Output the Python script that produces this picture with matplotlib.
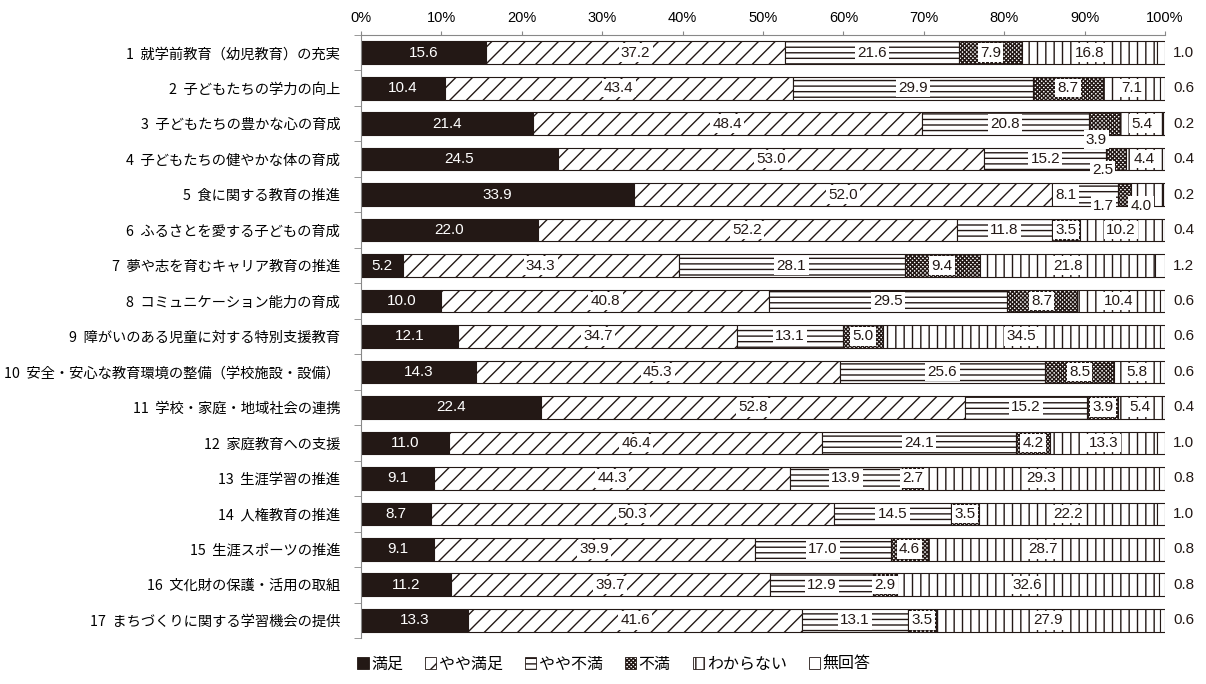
import numpy as np
import matplotlib
matplotlib.use("Agg")
import matplotlib.pyplot as plt
from matplotlib.patches import Patch

plt.rcParams["font.family"] = ["Noto Sans CJK JP", "DejaVu Sans"]
plt.rcParams["hatch.linewidth"] = 1.0

categories = [
    "1  就学前教育（幼児教育）の充実",
    "2  子どもたちの学力の向上",
    "3  子どもたちの豊かな心の育成",
    "4  子どもたちの健やかな体の育成",
    "5  食に関する教育の推進",
    "6  ふるさとを愛する子どもの育成",
    "7  夢や志を育むキャリア教育の推進",
    "8  コミュニケーション能力の育成",
    "9  障がいのある児童に対する特別支援教育",
    "10  安全・安心な教育環境の整備（学校施設・設備）",
    "11  学校・家庭・地域社会の連携",
    "12  家庭教育への支援",
    "13  生涯学習の推進",
    "14  人権教育の推進",
    "15  生涯スポーツの推進",
    "16  文化財の保護・活用の取組",
    "17  まちづくりに関する学習機会の提供",
]

series_names = ["満足", "やや満足", "やや不満", "不満", "わからない", "無回答"]

satisfied = [15.6, 10.4, 21.4, 24.5, 33.9, 22.0, 5.2, 10.0, 12.1, 14.3, 22.4, 11.0, 9.1, 8.7, 9.1, 11.2, 13.3]
somewhat_satisfied = [37.2, 43.4, 48.4, 53.0, 52.0, 52.2, 34.3, 40.8, 34.7, 45.3, 52.8, 46.4, 44.3, 50.3, 39.9, 39.7, 41.6]
somewhat_dissatisfied = [21.6, 29.9, 20.8, 15.2, 8.1, 11.8, 28.1, 29.5, 13.1, 25.6, 15.2, 24.1, 13.9, 14.5, 17.0, 12.9, 13.1]
dissatisfied = [7.9, 8.7, 3.9, 2.5, 1.7, 3.5, 9.4, 8.7, 5.0, 8.5, 3.9, 4.2, 2.7, 3.5, 4.6, 2.9, 3.5]
unknown = [16.8, 7.1, 5.4, 4.4, 4.0, 10.2, 21.8, 10.4, 34.5, 5.8, 5.4, 13.3, 29.3, 22.2, 28.7, 32.6, 27.9]
no_answer = [1.0, 0.6, 0.2, 0.4, 0.2, 0.4, 1.2, 0.6, 0.6, 0.6, 0.4, 1.0, 0.8, 1.0, 0.8, 0.8, 0.6]

xtick_values = list(range(0, 101, 10))

series = [satisfied, somewhat_satisfied, somewhat_dissatisfied, dissatisfied, unknown, no_answer]
styles = [
    dict(facecolor="#231815", hatch=None),
    dict(facecolor="white", hatch="//"),
    dict(facecolor="white", hatch="---"),
    dict(facecolor="white", hatch="xxxxxxxx"),
    dict(facecolor="white", hatch="||"),
    dict(facecolor="white", hatch=None),
]

# nudges (pixels) for labels of narrow segments
label_nudge = {
    (2, 3): (-8, -16),
    (3, 3): (-14, -11),
    (4, 2): (-19, 0),
    (4, 3): (-21, -11),
    (4, 4): (-6, -11),
}

raw = np.array(series, dtype=float)          # shape (6, 17)
shares = raw / raw.sum(axis=0) * 100.0        # 100% stacked
lefts = np.vstack([np.zeros(raw.shape[1]), np.cumsum(shares, axis=0)[:-1]])

fig = plt.figure(figsize=(12.06, 6.84), dpi=100)
ax = fig.add_axes([361 / 1206, 1 - 638 / 684, (1165 - 361) / 1206, (638 - 35) / 684])

y = np.arange(len(categories))
for i, (name, st) in enumerate(zip(series_names, styles)):
    ax.barh(y, shares[i], left=lefts[i], height=0.64, color=st["facecolor"],
            hatch=st["hatch"], edgecolor="#231815", linewidth=0.8, label=name)

num_font = ["Liberation Sans", "DejaVu Sans"]
for r in range(len(categories)):
    for i in range(5):
        v = raw[i, r]
        cx = lefts[i, r] + shares[i, r] / 2
        dx, dy = label_nudge.get((r, i), (0, 0))
        if i == 0:
            ax.annotate(f"{v:.1f}", (cx, r), xytext=(dx, dy), textcoords="offset pixels",
                        ha="center", va="center", fontsize=11, color="white", family=num_font)
        else:
            ax.annotate(f"{v:.1f}", (cx, r), xytext=(dx, dy), textcoords="offset pixels",
                        ha="center", va="center", fontsize=11, color="#231815", family=num_font,
                        bbox=dict(boxstyle="square,pad=0.15", fc="white", ec="none"))
    ax.annotate(f"{raw[5, r]:.1f}", (100, r), xytext=(8, 0), textcoords="offset pixels",
                ha="left", va="center", fontsize=11, color="#231815", family=num_font)

ax.set_xlim(0, 100)
ax.set_ylim(len(categories) - 0.5, -0.5)
ax.xaxis.tick_top()
ax.set_xticks(xtick_values)
ax.set_xticklabels([f"{t}%" for t in xtick_values], family=num_font, fontsize=10.5)
ax.tick_params(axis="x", direction="out", length=3, color="#888888", pad=4)

ax.set_yticks(y)
ax.set_yticklabels(categories, fontsize=10.3)
ax.set_yticks(np.arange(-0.5, len(categories), 1.0), minor=True)
ax.tick_params(axis="y", which="major", length=0, pad=15)
ax.tick_params(axis="y", which="minor", direction="out", length=5, color="#888888")

for side in ("right", "bottom"):
    ax.spines[side].set_visible(False)
for side in ("top", "left"):
    ax.spines[side].set_color("#888888")
    ax.spines[side].set_linewidth(0.8)

handles = [Patch(facecolor=st["facecolor"], hatch=st["hatch"], edgecolor="#231815", linewidth=0.6)
           for st in styles]
fig.legend(handles, series_names, loc="center", bbox_to_anchor=(614 / 1206, 1 - 664 / 684),
           ncol=6, frameon=False, fontsize=11.5, handlelength=0.7, handleheight=0.7,
           handletextpad=0.15, columnspacing=1.4)

fig.savefig("out.png", dpi=100)
